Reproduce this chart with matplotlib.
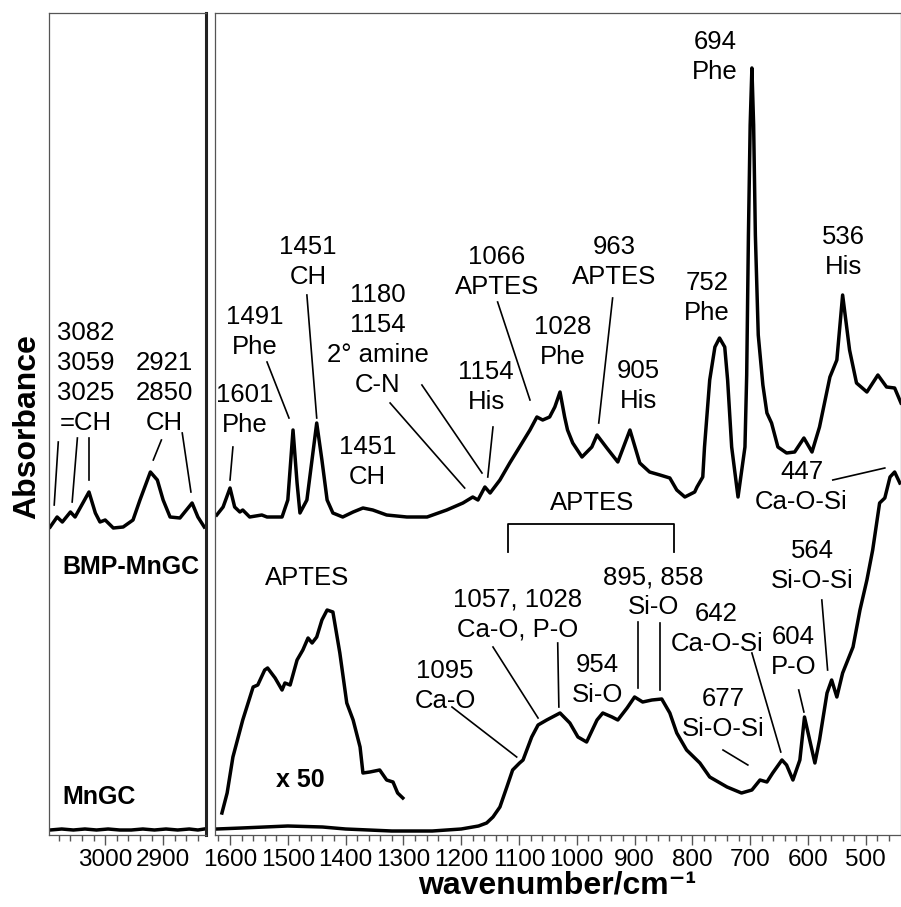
import numpy as np
import matplotlib.pyplot as plt

plt.rcParams['font.family'] = ['Liberation Sans', 'DejaVu Sans']

# --- spectra, left panel (C-H stretch region) ---
bmp_ch_wn = [3095, 3083, 3074, 3060, 3052, 3028, 3017, 3009, 3000, 2986, 2969,
             2952, 2940, 2922, 2910, 2900, 2888, 2871, 2850, 2840, 2829]
bmp_ch_abs = [3.08, 3.18, 3.13, 3.23, 3.18, 3.43, 3.22, 3.13, 3.15, 3.07, 3.08,
              3.15, 3.35, 3.63, 3.55, 3.35, 3.18, 3.17, 3.32, 3.18, 3.08]
mngc_ch_wn = [3095, 3075, 3055, 3035, 3015, 2995, 2975, 2955, 2935, 2915, 2895,
              2875, 2855, 2840, 2829]
mngc_ch_abs = [0.05, 0.06, 0.05, 0.06, 0.05, 0.06, 0.05, 0.05, 0.06, 0.05, 0.06,
               0.05, 0.06, 0.05, 0.06]

# --- spectra, right panel (fingerprint region) ---
bmp_wn = [1623, 1612, 1600, 1592, 1583, 1578, 1566, 1545, 1536, 1510, 1500, 1491,
          1484, 1479, 1467, 1450, 1441, 1432, 1422, 1405, 1387, 1370, 1353, 1329,
          1294, 1259, 1225, 1197, 1180, 1171, 1159, 1150, 1133, 1116, 1099, 1081,
          1069, 1059, 1047, 1038, 1029, 1021, 1016, 1007, 991, 974, 965, 948, 929,
          908, 891, 874, 856, 839, 827, 813, 796, 792, 782, 779, 770, 761, 753,
          744, 739, 732, 721, 709, 706, 703, 700, 697, 694, 691, 686, 678, 671,
          663, 652, 637, 623, 607, 593, 580, 562, 550, 540, 528, 516, 498, 479,
          464, 450, 439]
bmp_abs = [3.20, 3.28, 3.47, 3.28, 3.23, 3.25, 3.18, 3.20, 3.18, 3.18, 3.35, 4.05,
           3.52, 3.22, 3.35, 4.12, 3.75, 3.35, 3.22, 3.18, 3.23, 3.27, 3.25, 3.20,
           3.18, 3.18, 3.25, 3.32, 3.38, 3.35, 3.48, 3.42, 3.55, 3.72, 3.88, 4.05,
           4.18, 4.15, 4.18, 4.28, 4.43, 4.18, 4.05, 3.92, 3.78, 3.88, 4.00, 3.87,
           3.73, 4.05, 3.72, 3.63, 3.60, 3.57, 3.45, 3.38, 3.43, 3.48, 3.58, 3.88,
           4.55, 4.88, 4.97, 4.88, 4.55, 3.88, 3.38, 3.88, 4.60, 6.00, 7.10, 7.67,
           7.10, 6.00, 5.00, 4.50, 4.22, 4.12, 3.88, 3.82, 3.83, 3.97, 3.83, 4.08,
           4.58, 4.75, 5.40, 4.85, 4.52, 4.43, 4.60, 4.48, 4.47, 4.32]

mngc_wn = [1623, 1580, 1500, 1440, 1400, 1320, 1250, 1200, 1170, 1156, 1145, 1133,
           1121, 1111, 1099, 1093, 1078, 1067, 1052, 1029, 1012, 998, 983, 965,
           955, 939, 929, 913, 900, 886, 870, 853, 839, 827, 810, 787, 770, 740,
           715, 697, 683, 671, 661, 645, 637, 626, 614, 606, 597, 588, 580, 567,
           559, 550, 540, 522, 510, 498, 488, 476, 467, 458, 450, 441]
mngc_abs = [0.06, 0.07, 0.09, 0.08, 0.06, 0.04, 0.04, 0.06, 0.09, 0.12, 0.18, 0.28,
            0.48, 0.65, 0.72, 0.75, 0.98, 1.10, 1.15, 1.22, 1.12, 0.98, 0.93, 1.15,
            1.22, 1.18, 1.15, 1.27, 1.38, 1.33, 1.35, 1.36, 1.22, 1.02, 0.85, 0.72,
            0.58, 0.48, 0.42, 0.45, 0.55, 0.53, 0.62, 0.75, 0.70, 0.55, 0.75, 1.18,
            0.95, 0.72, 0.95, 1.42, 1.55, 1.38, 1.62, 1.88, 2.25, 2.55, 2.85, 3.32,
            3.37, 3.58, 3.63, 3.52]

# APTES bands of MnGC magnified x 50
aptes50_wn = [1614, 1605, 1595, 1578, 1560, 1552, 1540, 1535, 1522, 1510, 1505,
              1496, 1484, 1474, 1465, 1458, 1450, 1441, 1432, 1422, 1410, 1398,
              1387, 1375, 1370, 1358, 1341, 1329, 1318, 1310, 1301]
aptes50_abs = [0.22, 0.42, 0.78, 1.15, 1.48, 1.50, 1.65, 1.67, 1.57, 1.45, 1.52,
               1.50, 1.75, 1.85, 1.97, 1.92, 1.98, 2.15, 2.25, 2.23, 1.82, 1.32,
               1.15, 0.88, 0.62, 0.63, 0.65, 0.55, 0.53, 0.42, 0.37]

# --- band assignments: (text, wavenumber, absorbance of label centre) ---
ch_labels = [
    ('3082\n3059\n3025\n=CH', 3034, 4.57),
    ('2921\n2850\nCH', 2898, 4.42),
]
ch_leaders = [
    ((3081, 3.93), (3088, 3.30)),
    ((3048, 3.97), (3057, 3.33)),
    ((3028, 3.97), (3028, 3.55)),
    ((2903, 3.95), (2917, 3.75)),
    ((2867, 4.02), (2852, 3.43)),
]

fp_labels = [
    ('1601\nPhe', 1574, 4.25),
    ('1491\nPhe', 1557, 5.03),
    ('1451\nCH', 1465, 5.73),
    ('1451\nCH', 1362, 3.73),
    ('1180\n1154\n2° amine\nC-N', 1344, 4.95),
    ('1154\nHis', 1157, 4.48),
    ('1066\nAPTES', 1138, 5.63),
    ('1028\nPhe', 1024, 4.93),
    ('963\nAPTES', 936, 5.73),
    ('905\nHis', 894, 4.49),
    ('752\nPhe', 775, 5.37),
    ('694\nPhe', 761, 7.78),
    ('536\nHis', 538, 5.83),
    ('447\nCa-O-Si', 611, 3.48),
    ('APTES', 974, 3.32),
    ('APTES', 1467, 2.57),
    ('1057, 1028\nCa-O, P-O', 1102, 2.20),
    ('1095\nCa-O', 1228, 1.49),
    ('954\nSi-O', 964, 1.55),
    ('895, 858\nSi-O', 868, 2.43),
    ('642\nCa-O-Si', 758, 2.06),
    ('604\nP-O', 625, 1.83),
    ('564\nSi-O-Si', 593, 2.69),
    ('677\nSi-O-Si', 746, 1.21),
]
fp_leaders = [
    ((1595, 3.88), (1600, 3.55)),
    ((1536, 4.73), (1498, 4.17)),
    ((1467, 5.40), (1450, 4.17)),
    ((1323, 4.32), (1194, 3.47)),
    ((1268, 4.50), (1164, 3.62)),
    ((1145, 4.08), (1154, 3.58)),
    ((1137, 5.33), (1081, 4.35)),
    ((938, 5.37), (962, 4.12)),
    ((557, 3.55), (467, 3.67)),
    ((1145, 1.88), (1067, 1.17)),
    ((1033, 1.92), (1031, 1.28)),
    ((1216, 1.28), (1104, 0.78)),
    ((894, 2.13), (894, 1.47)),
    ((856, 2.12), (856, 1.45)),
    ((697, 1.82), (647, 0.83)),
    ((616, 1.45), (607, 1.23)),
    ((576, 2.35), (566, 1.65)),
    ((747, 0.85), (704, 0.70)),
]
aptes_bracket_wn = [1119, 1119, 832, 832]
aptes_bracket_abs = [2.83, 3.11, 3.11, 2.83]

# --- figure ---
W, H = 901, 907
fig = plt.figure(figsize=(W / 100, H / 100), dpi=100)
bot, top = 1 - 835 / H, 1 - 13 / H
ax1 = fig.add_axes([49 / W, bot, (206 - 49) / W, top - bot])
ax2 = fig.add_axes([215 / W, bot, 1 - 215 / W, top - bot])

fs = 18.5
pitch = 0.30   # line pitch of the stacked labels, in absorbance units
lw = 2.5
spine_col = '#555555'


def stacked_label(ax, txt, x, y):
    # one text per line, so the lines can sit close to neighbouring labels
    lines = txt.split('\n')
    y0 = y + 0.5 * (len(lines) - 1) * pitch
    for i, line in enumerate(lines):
        ax.text(x, y0 - i * pitch, line, ha='center', va='center', fontsize=fs)


for ax in (ax1, ax2):
    ax.set_ylim(0, 8.22)
    ax.set_yticks([])
    for s in ax.spines.values():
        s.set_color(spine_col)
        s.set_linewidth(0.9)
    ax.tick_params(axis='x', which='major', direction='out', length=7, width=1,
                   color=spine_col, labelsize=17.5, pad=3)
    ax.tick_params(axis='x', which='minor', direction='out', length=4, width=1,
                   color=spine_col)

ax1.spines['right'].set_color('#222222')
ax1.spines['right'].set_linewidth(2.2)

ax1.set_xlim(3097, 2826)
ax1.set_xticks([3000, 2900])
ax1.set_xticks(np.arange(2840, 3100, 20), minor=True)
ax2.set_xlim(1626, 439)
ax2.set_xticks(np.arange(1600, 499, -100))
ax2.set_xticks(np.arange(1620, 440, -20), minor=True)

ax1.plot(bmp_ch_wn, bmp_ch_abs, color='black', lw=lw, solid_joinstyle='round')
ax1.plot(mngc_ch_wn, mngc_ch_abs, color='black', lw=lw)
ax2.plot(bmp_wn, bmp_abs, color='black', lw=lw, solid_joinstyle='round')
ax2.plot(mngc_wn, mngc_abs, color='black', lw=lw, solid_joinstyle='round')
ax2.plot(aptes50_wn, aptes50_abs, color='black', lw=lw, solid_joinstyle='round')
ax2.plot(aptes_bracket_wn, aptes_bracket_abs, color='black', lw=1.3)

for txt, x, y in ch_labels:
    stacked_label(ax1, txt, x, y)
for (x1, y1), (x2, y2) in ch_leaders:
    ax1.plot([x1, x2], [y1, y2], color='black', lw=1.2)

for txt, x, y in fp_labels:
    stacked_label(ax2, txt, x, y)
for (x1, y1), (x2, y2) in fp_leaders:
    ax2.plot([x1, x2], [y1, y2], color='black', lw=1.2)

ax2.text(1479, 0.55, 'x 50', ha='center', va='center', fontsize=18,
         fontweight='bold')
ax1.text(3074, 2.68, 'BMP-MnGC', ha='left', va='center', fontsize=18,
         fontweight='bold')
ax1.text(3074, 0.38, 'MnGC', ha='left', va='center', fontsize=18,
         fontweight='bold')

fig.text(27 / W, 1 - 427 / H, 'Absorbance', rotation=90, ha='center',
         va='center', fontsize=23, fontweight='bold')
fig.text(557 / W, 1 - 885 / H, 'wavenumber/cm⁻¹', ha='center', va='center',
         fontsize=23, fontweight='bold')

fig.savefig('out.png', dpi=100)
